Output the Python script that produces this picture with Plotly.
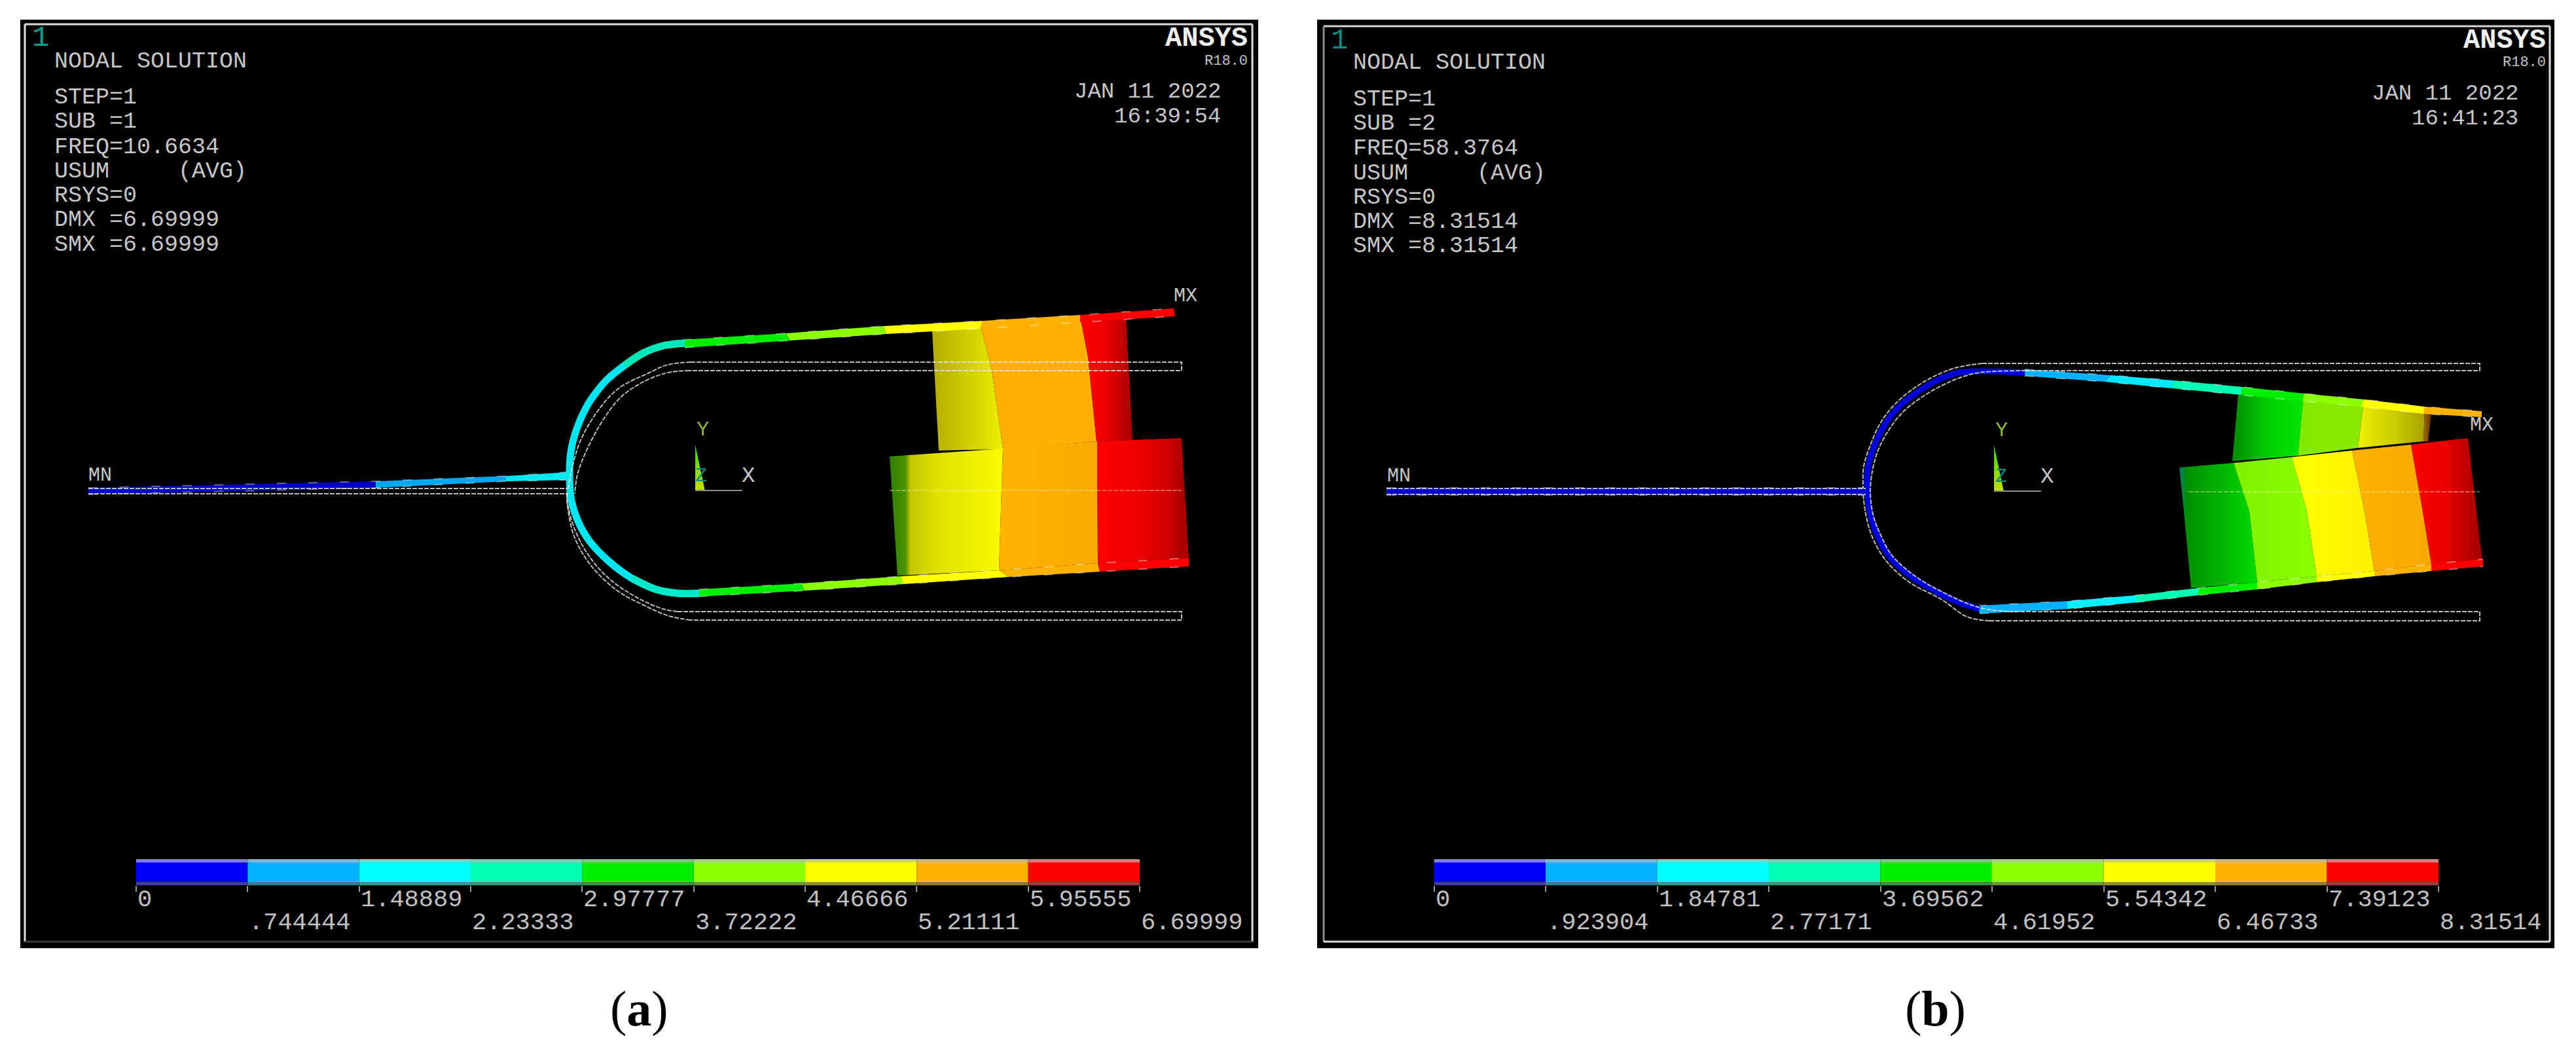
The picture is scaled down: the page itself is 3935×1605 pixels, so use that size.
import plotly.graph_objects as go

# contour levels and their printed labels
levels_a = [0, 0.744444, 1.48889, 2.23333, 2.97777, 3.72222, 4.46666, 5.21111, 5.95555, 6.69999]
labels_a = ["0", ".744444", "1.48889", "2.23333", "2.97777", "3.72222", "4.46666", "5.21111", "5.95555", "6.69999"]
levels_b = [0, 0.923904, 1.84781, 2.77171, 3.69562, 4.61952, 5.54342, 6.46733, 7.39123, 8.31514]
labels_b = ["0", ".923904", "1.84781", "2.77171", "3.69562", "4.61952", "5.54342", "6.46733", "7.39123", "8.31514"]
band_colors = ["#0000ff", "#00b2ff", "#00ffff", "#00ffb2", "#00f000", "#8cff00", "#ffff00", "#ffb200", "#ff0000"]

info_a = ["NODAL SOLUTION", "STEP=1", "SUB =1", "FREQ=10.6634", "USUM     (AVG)", "RSYS=0", "DMX =6.69999", "SMX =6.69999"]
info_b = ["NODAL SOLUTION", "STEP=1", "SUB =2", "FREQ=58.3764", "USUM     (AVG)", "RSYS=0", "DMX =8.31514", "SMX =8.31514"]
info_rows_a = [94, 149, 186, 225, 262, 299, 336, 374]
info_rows_b = [96, 152, 189, 227, 265, 302, 339, 376]

# model (a)
a_rear_x = [[1424, 1434], [1497, 1515, 1532], [1650, 1662, 1675], [1720, 1730]]
a_rear_y = [[506, 688], [493, 566, 686], [483, 545, 674], [485, 672]]
a_front_x = [[1359, 1371], [1532, 1526], [1676, 1677], [1805, 1816]]
a_front_y = [[697, 879], [685, 871], [674, 860], [669, 852]]

a_top_ux = [1042, 1200, 1350, 1501, 1650, 1793]
a_top_uy = [519, 509, 498, 490, 481, 471]
a_top_lx = [1046, 1207, 1354, 1497, 1650, 1795]
a_top_ly = [531, 520, 510, 502, 492, 483]
a_top_c = ["#00f000", "#8cff00", "#ffff00", "#ffb200", "#ff0000"]

a_bot_ux = [1068, 1224, 1376, 1526, 1677, 1816]
a_bot_uy = [900, 891, 880, 871, 860, 852]
a_bot_lx = [1068, 1229, 1380, 1541, 1680, 1816]
a_bot_ly = [911, 902, 892, 881, 873, 865]
a_bot_c = ["#00f000", "#8cff00", "#ffff00", "#ffb200", "#ff0000"]

a_left_ux = [135, 574, 773, 868]
a_left_uy = [745, 735, 727, 721]
a_left_lx = [135, 574, 773, 868]
a_left_ly = [755, 745, 735, 733]
a_left_c = ["#0000c8", "#00a8f0", "#00e8f0"]

a_curve_x = [1046, 1013, 983, 954, 925, 899, 881, 872, 870, 873, 883, 901, 931, 965, 1002, 1035, 1068]
a_curve_y = [524, 528, 539, 558, 582, 616, 655, 690, 732, 765, 796, 827, 858, 883, 900, 906, 906]

# undeformed outline (a)
a_und_x = [
    [135, 868], [135, 868], [1055, 1805, 1805, 1053], [1035, 1805, 1805, 1055],
    [1055, 1020, 990, 945, 915, 888, 875, 868],
    [1053, 1020, 985, 950, 922, 895, 882, 878],
    [1035, 1013, 976, 932, 899, 877, 867, 866],
    [1055, 1020, 983, 943, 903, 877, 867, 866],
]
a_und_y = [
    [746, 746], [754, 754], [553, 553, 566, 566], [934, 934, 947, 947],
    [553, 557, 570, 593, 625, 670, 710, 746],
    [566, 569, 582, 605, 640, 690, 725, 754],
    [934, 930, 914, 885, 848, 806, 769, 752],
    [947, 940, 924, 902, 864, 819, 773, 754],
]
a_mid_x = [1359, 1805]
a_mid_y = [749, 749]

# model (b)
b_rear_x = [[3419, 3410], [3519, 3510], [3611, 3602], [3704, 3702], [3714, 3709]]
b_rear_y = [[603, 704], [602, 696], [612, 684], [623, 674], [633, 674]]
b_front_x = [[3329, 3336, 3347], [3412, 3436, 3448], [3501, 3524, 3539], [3593, 3612, 3627], [3683, 3701, 3714], [3770, 3783, 3792]]
b_front_y = [[714, 781, 898], [707, 781, 889], [698, 781, 880], [688, 781, 872], [679, 781, 861], [669, 781, 856]]

b_top_ux = [3093, 3224, 3321, 3426, 3520, 3611, 3704, 3791]
b_top_uy = [564, 573, 581, 591, 601, 610, 621, 628]
b_top_lx = [3093, 3216, 3318, 3423, 3517, 3607, 3702, 3791]
b_top_ly = [574, 583, 593, 603, 612, 621, 632, 637]
b_top_c = ["#00b2ff", "#00e8ff", "#00ffb2", "#00f000", "#8cff00", "#ffff00", "#ffb200"]

b_bot_ux = [3021, 3158, 3263, 3358, 3448, 3539, 3627, 3714, 3793]
b_bot_uy = [925, 918, 909, 898, 889, 880, 872, 861, 854]
b_bot_lx = [3024, 3158, 3263, 3358, 3448, 3539, 3627, 3714, 3793]
b_bot_ly = [937, 930, 920, 909, 900, 889, 880, 872, 865]
b_bot_c = ["#00b2ff", "#00f0ff", "#00ffb2", "#00f000", "#8cff00", "#ffff00", "#ffb200", "#ff0000"]

b_left_ux = [2118, 2850]
b_left_uy = [745, 745]
b_left_lx = [2118, 2850]
b_left_ly = [756, 756]
b_left_c = ["#0000c8"]

b_curve_x = [3093, 3024, 2992, 2963, 2930, 2901, 2880, 2864, 2854, 2852, 2856, 2867, 2887, 2919, 2959, 2990, 3024]
b_curve_y = [569, 567, 569, 579, 598, 621, 647, 679, 710, 745, 781, 816, 851, 880, 904, 919, 930]

# undeformed outline (b)
b_und_x = [
    [2118, 2850], [2118, 2850], [3028, 3788, 3788, 3095], [3068, 3788, 3788, 3039],
    [3028, 2990, 2960, 2925, 2895, 2873, 2857, 2847, 2846],
    [3095, 3024, 2996, 2968, 2935, 2908, 2887, 2870, 2861, 2857, 2861, 2872, 2890, 2923, 2965, 3024, 3068],
    [3039, 3005, 2965, 2915, 2880, 2860, 2850, 2846],
]
b_und_y = [
    [746, 746], [755, 755], [555, 555, 566, 566], [934, 934, 948, 948],
    [555, 561, 572, 592, 617, 645, 680, 712, 746],
    [566, 569, 576, 588, 607, 628, 654, 685, 715, 750, 785, 815, 848, 878, 903, 928, 934],
    [948, 942, 915, 888, 855, 820, 785, 755],
]
b_mid_x = [3343, 3788]
b_mid_y = [751, 751]

W, H = 3935, 1605
MONO = "Liberation Mono"

# shading across the cylinder bands
sh_rear_a = [
    [[0, "#b4ac00"], [1, "#eeee00"]],
    [[0, "#ffb000"], [1, "#ffb000"]],
    [[0, "#ff0000"], [0.45, "#f00000"], [1, "#a80000"]],
]
sh_front_a = [
    [[0, "#2f8000"], [0.14, "#4a9400"], [0.18, "#c4c400"], [0.4, "#e0e000"], [1, "#fafa00"]],
    [[0, "#ffb400"], [1, "#f8aa00"]],
    [[0, "#ff0000"], [0.45, "#f00000"], [0.75, "#d00000"], [1, "#a00000"]],
]
sh_rear_b = [
    [[0, "#008a00"], [0.5, "#00d000"], [1, "#00e800"]],
    [[0, "#80ea00"], [1, "#8ce800"]],
    [[0, "#f0f000"], [0.6, "#c8c800"], [1, "#a8a000"]],
    [[0, "#a07000"], [1, "#603000"]],
]
sh_front_b = [
    [[0, "#007a70"], [0.1, "#009000"], [1, "#00dc00"]],
    [[0, "#80f000"], [1, "#8cff00"]],
    [[0, "#ffff00"], [1, "#fff000"]],
    [[0, "#ffb200"], [1, "#f8a800"]],
    [[0, "#ff0000"], [0.5, "#e80000"], [1, "#a00000"]],
]

fig = go.Figure()


def bands(xs, ys, shades):
    # one filled polygon between each pair of neighbouring band boundaries
    for i, shade in enumerate(shades):
        fig.add_trace(go.Scatter(
            x=xs[i] + xs[i + 1][::-1] + [xs[i][0]],
            y=ys[i] + ys[i + 1][::-1] + [ys[i][0]],
            mode="lines", line=dict(width=0), fill="toself",
            fillgradient=dict(type="horizontal", colorscale=shade),
        ))


def strip(ux, uy, lx, ly, colors):
    for i, c in enumerate(colors):
        fig.add_trace(go.Scatter(
            x=[ux[i], ux[i + 1], lx[i + 1], lx[i], ux[i]],
            y=[uy[i], uy[i + 1], ly[i + 1], ly[i], uy[i]],
            mode="lines", line=dict(width=0), fill="toself", fillcolor=c,
        ))
    # pale flecks along the element edges
    for ex, ey in ((ux, uy), (lx, ly)):
        fig.add_trace(go.Scatter(
            x=ex, y=ey, mode="lines",
            line=dict(color="rgba(255,255,255,0.4)", width=2, dash="14px,34px"),
        ))


def curve(x, y, color, width):
    fig.add_trace(go.Scatter(
        x=x, y=y, mode="lines", line=dict(color=color, width=width, shape="spline", smoothing=0.8),
    ))


def outline(xs, ys):
    for x, y in zip(xs, ys):
        fig.add_trace(go.Scatter(
            x=x, y=y, mode="lines",
            line=dict(color="rgba(232,232,232,0.8)", width=2, dash="7px,2px",
                      shape="spline" if len(x) > 4 else "linear"),
        ))


def midline(x, y):
    fig.add_trace(go.Scatter(
        x=x, y=y, mode="lines", line=dict(color="rgba(255,240,170,0.4)", width=2, dash="7px,2px"),
    ))


def triad(x0, y_top, y0):
    fig.add_trace(go.Scatter(
        x=[x0, x0, x0 + 15, x0], y=[y_top, y0, y0, y_top],
        mode="lines", line=dict(width=0), fill="toself",
        fillgradient=dict(type="vertical", colorscale=[[0, "#c8e000"], [0.6, "#70d800"], [1, "#30e000"]]),
    ))
    fig.add_trace(go.Scatter(
        x=[x0, x0 + 72], y=[y0 - 1, y0 - 1], mode="lines", line=dict(color="#8c8c8c", width=2),
    ))


def label(text, x, y, size=35, color="#c6c6c6", anchor="left", family=MONO, xref="x"):
    fig.add_annotation(
        text=text, x=x, y=y, xref=xref, yref="y", showarrow=False,
        xanchor=anchor, yanchor="middle", align=anchor,
        font=dict(family=family, size=size, color=color),
    )


def mix(c, grey, t):
    r, g, b = int(c[1:3], 16), int(c[3:5], 16), int(c[5:7], 16)
    return "rgb(%d,%d,%d)" % (r * t + grey * (1 - t), g * t + grey * (1 - t), b * t + grey * (1 - t))


def colorbar(levels, texts, xname, yname):
    steps = [levels[i + 1] - levels[i] for i in range(9)]
    for yc, wd, cols in (
        (0.9375, 0.125, [mix(c, 185, 0.3) for c in band_colors]),
        (0.0625, 0.125, [mix(c, 95, 0.3) for c in band_colors]),
        (0.5, 0.75, band_colors),
    ):
        fig.add_trace(go.Bar(
            y=[yc] * 9, x=steps, base=levels[:-1], width=[wd] * 9, orientation="h",
            marker=dict(color=cols, line=dict(width=0)), xaxis=xname, yaxis=yname,
        ))
    for i, t in enumerate(texts):
        label(t, levels[i], 1409 if i % 2 else 1374, size=37, color="#c0c0c0", xref=xname)


# panel (a)
bands(a_rear_x, a_rear_y, sh_rear_a)
bands(a_front_x, a_front_y, sh_front_a)
midline(a_mid_x, a_mid_y)
strip(a_left_ux, a_left_uy, a_left_lx, a_left_ly, a_left_c)
strip(a_top_ux, a_top_uy, a_top_lx, a_top_ly, a_top_c)
strip(a_bot_ux, a_bot_uy, a_bot_lx, a_bot_ly, a_bot_c)
curve(a_curve_x, a_curve_y, "#00e6f0", 11)
curve(a_curve_x[:4], a_curve_y[:4], "#00e8b8", 11)
curve(a_curve_x[13:], a_curve_y[13:], "#00e8c8", 11)
outline(a_und_x, a_und_y)
triad(1062, 679, 750)

# panel (b)
bands(b_rear_x, b_rear_y, sh_rear_b)
bands(b_front_x, b_front_y, sh_front_b)
midline(b_mid_x, b_mid_y)
strip(b_left_ux, b_left_uy, b_left_lx, b_left_ly, b_left_c)
strip(b_top_ux, b_top_uy, b_top_lx, b_top_ly, b_top_c)
strip(b_bot_ux, b_bot_uy, b_bot_lx, b_bot_ly, b_bot_c)
curve(b_curve_x, b_curve_y, "#0000d8", 9)
outline(b_und_x, b_und_y)
triad(3046, 680, 751)

colorbar(levels_a, labels_a, "x2", "y2")
colorbar(levels_b, labels_b, "x3", "y3")

# text blocks
for t, y in zip(info_a, info_rows_a):
    label(t, 81, y)
for t, y in zip(info_b, info_rows_b):
    label(t, 2065, y)

label("1", 62, 58, size=44, color="#0f9a8a", anchor="center")
label("1", 2046, 62, size=44, color="#0f8a80", anchor="center")
label("<b>ANSYS</b>", 1908, 59, size=42, color="#f0f0f0", anchor="right")
label("R18.0", 1908, 93, size=22, color="#c0c0c0", anchor="right")
label("JAN 11 2022", 1867, 140, size=34, anchor="right")
label("16:39:54", 1867, 178, size=34, anchor="right")
label("<b>ANSYS</b>", 3891, 62, size=42, color="#f0f0f0", anchor="right")
label("R18.0", 3891, 95, size=22, color="#c0c0c0", anchor="right")
label("JAN 11 2022", 3849, 143, size=34, anchor="right")
label("16:41:23", 3849, 181, size=34, anchor="right")

label("MN", 153, 726, size=30, anchor="center")
label("MX", 1811, 452, size=30, anchor="center")
label("Y", 1073, 656, size=32, color="#90b040", anchor="center")
label("Z", 1071, 727, size=30, color="#108a80", anchor="center")
label("X", 1143, 727, size=34, anchor="center")
label("MN", 2137, 727, size=30, anchor="center")
label("MX", 3791, 649, size=30, anchor="center")
label("Y", 3057, 657, size=32, color="#90b040", anchor="center")
label("Z", 3057, 728, size=30, color="#108a80", anchor="center")
label("X", 3127, 728, size=34, anchor="center")

label("(<b>a</b>)", 976, 1540, size=76, color="#000000", anchor="center", family="Liberation Serif")
label("(<b>b</b>)", 2956, 1540, size=76, color="#000000", anchor="center", family="Liberation Serif")

# panels and frames
shapes = []
for x0, x1 in ((31, 1922), (2012, 3902)):
    shapes.append(dict(type="rect", x0=x0, x1=x1, y0=30, y1=1448, fillcolor="#000000", line_width=0, layer="below"))
for x0, y0, x1, y1, c in (
    (38, 37, 1913, 37, "#e0e0e0"), (38, 37, 38, 1438, "#e0e0e0"),
    (1913, 37, 1913, 1438, "#e0e0e0"), (38, 1438, 1913, 1438, "#3c3c3c"),
    (2022, 40, 3895, 40, "#d8d8d8"), (2022, 40, 2022, 1438, "#8c8c8c"),
    (3895, 40, 3895, 1438, "#e0e0e0"), (2022, 1438, 3895, 1438, "#d8d8d8"),
):
    shapes.append(dict(type="line", x0=x0, x1=x1, y0=y0, y1=y1, line=dict(color=c, width=3), layer="below"))

hidden = dict(visible=False, showgrid=False, zeroline=False)


def bar_xaxis(levels, px0, px1, anchor):
    return dict(
        domain=[px0 / W, px1 / W], range=[levels[0], levels[-1]], anchor=anchor,
        tickvals=levels, ticks="outside", ticklen=9, tickwidth=2, tickcolor="#9a9a9a",
        showticklabels=False, showgrid=False, zeroline=False, showline=False,
    )


bar_yaxis = dict(hidden, domain=[1 - 1352 / H, 1 - 1312 / H], range=[0, 1])

fig.update_layout(
    width=W, height=H, margin=dict(l=0, r=0, t=0, b=0),
    paper_bgcolor="#ffffff", plot_bgcolor="rgba(0,0,0,0)",
    showlegend=False, hovermode=False, barmode="overlay", shapes=shapes,
    xaxis=dict(hidden, domain=[0, 1], range=[0, W]),
    yaxis=dict(hidden, domain=[0, 1], range=[H, 0]),
    xaxis2=bar_xaxis(levels_a, 208, 1741, "y2"),
    yaxis2=dict(bar_yaxis, anchor="x2"),
    xaxis3=bar_xaxis(levels_b, 2190.5, 3725, "y3"),
    yaxis3=dict(bar_yaxis, anchor="x3"),
)

fig.write_html("out.html", config=dict(displayModeBar=False), post_script="document.body.style.margin='0';")
